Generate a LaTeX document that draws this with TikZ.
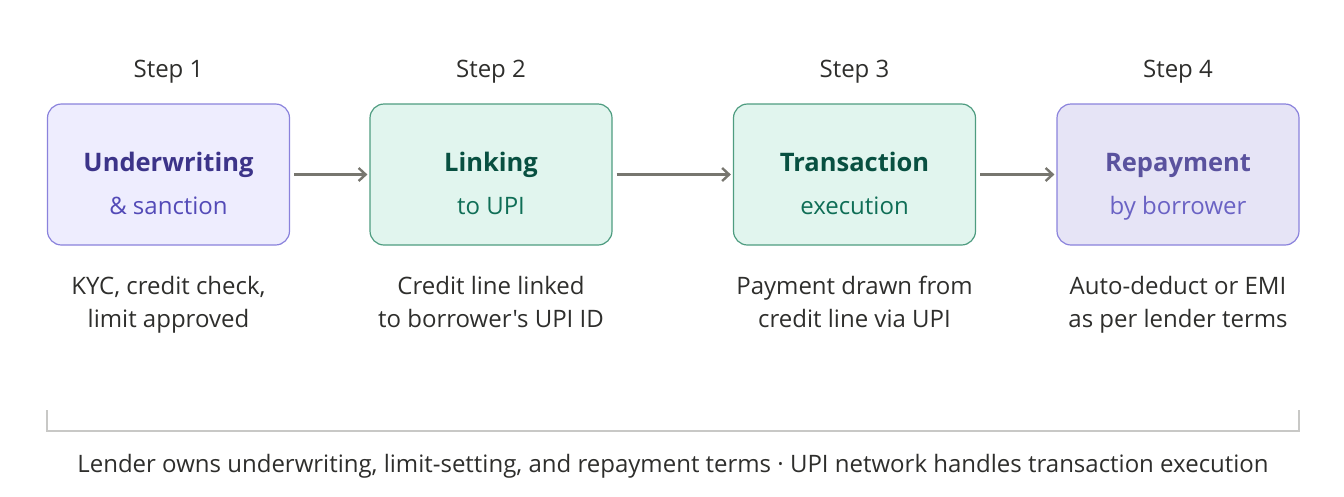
\documentclass[tikz,border=0pt]{standalone}
\usepackage{fontspec}
\newfontfamily\opensans{Open Sans}
\usetikzlibrary{arrows.meta}
\definecolor{txt}{HTML}{2E2E2C}
\definecolor{pfill}{HTML}{EEEDFE}
\definecolor{pdraw}{HTML}{8A82DC}
\definecolor{ptitle}{HTML}{3C3489}
\definecolor{psub}{HTML}{534AB7}
\definecolor{gfill}{HTML}{E1F5EE}
\definecolor{gdraw}{HTML}{4E9C80}
\definecolor{gtitle}{HTML}{085041}
\definecolor{gsub}{HTML}{0F6E56}
\definecolor{qfill}{HTML}{E6E4F6}
\definecolor{qdraw}{HTML}{8A82DC}
\definecolor{qtitle}{HTML}{5A529E}
\definecolor{qsub}{HTML}{6A62C4}
\definecolor{arr}{HTML}{77766F}
\definecolor{brk}{HTML}{C8C8C6}
\tikzset{
  x=1pt,y=-1pt,
  card/.style={rounded corners=14pt,line width=1.2pt,minimum width=242pt,minimum height=141pt,inner sep=0pt},
  steplbl/.style={anchor=base,inner sep=0pt,text=txt,font=\opensans\fontsize{24}{28}\selectfont},
  desc/.style={anchor=base,inner sep=0pt,text=txt,font=\opensans\fontsize{24}{33}\selectfont,align=center},
  ttl/.style={anchor=base,inner sep=0pt,font=\opensans\fontsize{25.5}{30}\selectfont\bfseries},
  sub/.style={anchor=base,inner sep=0pt,font=\opensans\fontsize{24}{28}\selectfont},
  flow/.style={draw=arr,line width=2.4pt,-{Straight Barb[length=7pt,width=13pt,line width=2.4pt]}},
}
\begin{document}
\begin{tikzpicture}
\useasboundingbox (0,0) rectangle (1344,496);
% cards
\node[card,fill=pfill,draw=pdraw] (c1) at (168.5,174.5) {};
\node[card,fill=gfill,draw=gdraw] (c2) at (491,174.5) {};
\node[card,fill=gfill,draw=gdraw] (c3) at (854.5,174.5) {};
\node[card,fill=qfill,draw=qdraw] (c4) at (1178,174.5) {};
% titles
\node[ttl,text=ptitle] (t1) at (168.5,171) {Underwriting};
\node[sub,text=psub] (s1) at (168.5,214) {\& sanction};
\node[ttl,text=gtitle] (t2) at (491,171) {Linking};
\node[sub,text=gsub] (s2) at (491,214) {to UPI};
\node[ttl,text=gtitle] (t3) at (854.5,171) {Transaction};
\node[sub,text=gsub] (s3) at (854.5,214) {execution};
\node[ttl,text=qtitle] (t4) at (1178,171) {Repayment};
\node[sub,text=qsub] (s4) at (1178,214) {by borrower};
% step labels
\node[steplbl] (l1) at (168.5,77) {Step 1};
\node[steplbl] (l2) at (491,77) {Step 2};
\node[steplbl] (l3) at (854.5,77) {Step 3};
\node[steplbl] (l4) at (1178,77) {Step 4};
% descriptions
\node[desc] (d1) at (168.5,327) {KYC, credit check,\\limit approved};
\node[desc] (d2) at (491,327) {Credit line linked\\to borrower's UPI ID};
\node[desc] (d3) at (854.5,327) {Payment drawn from\\credit line via UPI};
\node[desc] (d4) at (1178,327) {Auto-deduct or EMI\\as per lender terms};
% arrows
\draw[flow] ([xshift=4pt]c1.east) -- ([xshift=-2pt]c2.west);
\draw[flow] ([xshift=4pt]c2.east) -- ([xshift=-2pt]c3.west);
\draw[flow] ([xshift=4pt]c3.east) -- ([xshift=-2pt]c4.west);
% bracket
\coordinate (b1) at (47,410);
\coordinate (b2) at (47,431);
\coordinate (b3) at (1299,431);
\coordinate (b4) at (1299,410);
\draw[brk,line width=1.5pt] (b1) -- (b2) -- (b3) -- (b4);
\node[steplbl] (foot) at (673,472) {Lender owns underwriting, limit-setting, and repayment terms · UPI network handles transaction execution};
\end{tikzpicture}
\end{document}
